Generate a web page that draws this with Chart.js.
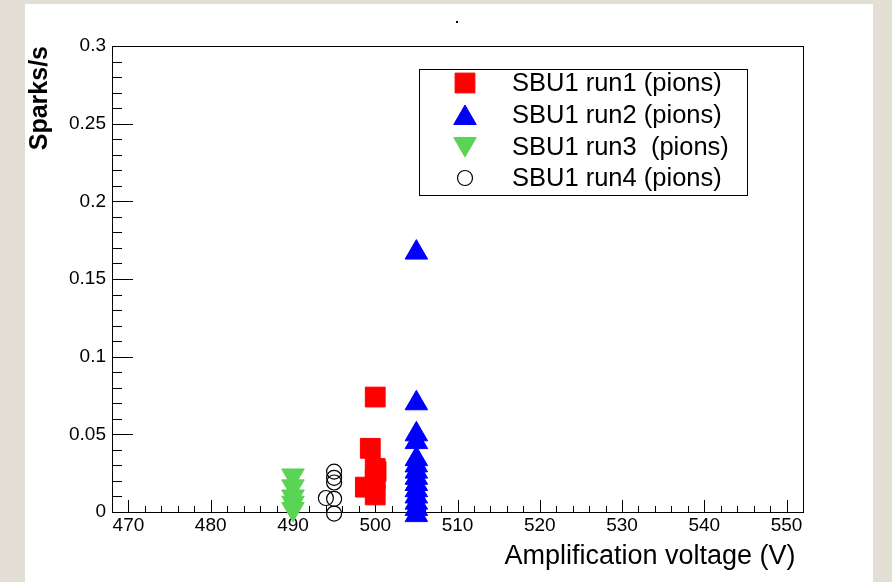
<!DOCTYPE html>
<html>
<head>
<meta charset="utf-8">
<script src="https://cdn.jsdelivr.net/npm/chart.js@4.4.1/dist/chart.umd.min.js"></script>
<style>
    html, body { margin: 0; padding: 0; background: #e4dfd4; }
    #wrap { width: 892px; height: 582px; }
</style>
</head>
<body>
<div id="wrap"><canvas id="sparkChart" width="892" height="582"></canvas></div>
<script>
// values (x = amplification voltage in V, y = sparks per second)
var run1X = [500, 499.4, 500, 500.1, 500, 498.8, 500];
var run1Y = [0.074, 0.041, 0.028, 0.026, 0.021, 0.016, 0.011];

var run2X = [505, 505, 505, 505, 505, 505, 505, 505, 505, 505, 505, 505, 505, 505];
var run2Y = [0.167, 0.070, 0.050, 0.045, 0.034, 0.030, 0.026, 0.022, 0.018, 0.014, 0.010, 0.006, 0.002, -0.002];

var run3X = [490, 490, 490, 490, 490];
var run3Y = [0.0235, 0.0165, 0.010, 0.006, 0.002];

var run4X = [495, 495, 495, 494, 495, 495];
var run4Y = [0.026, 0.022, 0.019, 0.009, 0.0085, -0.001];

var seriesLabels = ['SBU1 run1 (pions)', 'SBU1 run2 (pions)', 'SBU1 run3  (pions)', 'SBU1 run4 (pions)'];

var xTicks = [470, 480, 490, 500, 510, 520, 530, 540, 550];
var yTicks = [0, 0.05, 0.1, 0.15, 0.2, 0.25, 0.3];
var yTickLabels = ['0', '0.05', '0.1', '0.15', '0.2', '0.25', '0.3'];

function toPoints(xs, ys) {
    return xs.map(function (x, i) { return { x: x, y: ys[i] }; });
}

var FONT = '"Liberation Sans", Arial, Helvetica, sans-serif';

var pageBackground = {
    id: 'pageBackground',
    beforeDraw: function (chart) {
        var ctx = chart.ctx;
        ctx.save();
        ctx.fillStyle = '#e4dfd4';
        ctx.fillRect(0, 0, chart.width, chart.height);
        ctx.fillStyle = '#ffffff';
        ctx.fillRect(25, 4, 848, 578);
        ctx.restore();
    }
};

// ROOT style frame with ticks pointing into the plot
var rootFrame = {
    id: 'rootFrame',
    beforeDatasetsDraw: function (chart) {
        var ctx = chart.ctx;
        var a = chart.chartArea;
        var xs = chart.scales.x, ys = chart.scales.y;
        ctx.save();
        ctx.strokeStyle = '#000';
        ctx.lineWidth = 1;
        ctx.strokeRect(a.left + 0.5, a.top + 0.5, a.right - a.left, a.bottom - a.top);

        ctx.beginPath();
        var v, px, len;
        for (v = 470; v <= 552; v += 2) {
            px = Math.round(xs.getPixelForValue(v)) + 0.5;
            len = (v % 10 === 0) ? 12 : 6;
            ctx.moveTo(px, a.bottom);
            ctx.lineTo(px, a.bottom - len);
        }
        for (var k = 0; k <= 30; k++) {
            v = k / 100;
            px = Math.round(ys.getPixelForValue(v)) + 0.5;
            len = (k % 5 === 0) ? 21 : 10;
            ctx.moveTo(a.left, px);
            ctx.lineTo(a.left + len, px);
        }
        ctx.stroke();

        // tiny title mark
        ctx.fillStyle = '#000';
        ctx.fillRect(Math.round((a.left + a.right) / 2) - 2, 21, 2, 2);
        ctx.restore();
    },
    afterDraw: function (chart) {
        var ctx = chart.ctx;
        ctx.save();
        ctx.fillStyle = '#fff';
        ctx.strokeStyle = '#000';
        ctx.lineWidth = 1;
        ctx.fillRect(419, 69, 328, 126);
        ctx.strokeRect(419.5, 69.5, 328, 126);
        var rowY = [83, 115, 147, 178];
        chart.data.datasets.forEach(function (ds, i) {
            ctx.fillStyle = ds.backgroundColor;
            ctx.strokeStyle = ds.borderColor;
            ctx.lineWidth = ds.borderWidth;
            Chart.helpers.drawPoint(ctx, {
                pointStyle: ds.pointStyle,
                radius: ds.pointRadius,
                rotation: ds.rotation || 0,
                borderWidth: ds.borderWidth
            }, 465, rowY[i] + (ds.pointStyle === 'triangle' ? (ds.rotation ? -3 : 3) : 0));
            ctx.fillStyle = '#000';
            ctx.font = '25.5px ' + FONT;
            ctx.textBaseline = 'middle';
            ctx.textAlign = 'left';
            ctx.fillText(ds.label, 512, rowY[i] + 1);
        });
        ctx.restore();
    }
};

var ctx = document.getElementById('sparkChart').getContext('2d');
var chart = new Chart(ctx, {
    type: 'scatter',
    data: {
        datasets: [{
            label: seriesLabels[0],
            data: toPoints(run1X, run1Y),
            pointStyle: 'rect',
            pointRadius: 14,
            backgroundColor: '#ff0000',
            borderColor: '#ff0000',
            borderWidth: 1,
            clip: false
        }, {
            label: seriesLabels[1],
            data: toPoints(run2X, run2Y),
            pointStyle: 'triangle',
            pointRadius: 13,
            backgroundColor: '#0000ff',
            borderColor: '#0000ff',
            borderWidth: 1,
            clip: false
        }, {
            label: seriesLabels[2],
            data: toPoints(run3X, run3Y),
            pointStyle: 'triangle',
            rotation: 180,
            pointRadius: 13,
            backgroundColor: '#59d454',
            borderColor: '#59d454',
            borderWidth: 1,
            clip: false
        }, {
            label: seriesLabels[3],
            data: toPoints(run4X, run4Y),
            pointStyle: 'circle',
            pointRadius: 7.5,
            backgroundColor: 'rgba(0,0,0,0)',
            borderColor: '#000000',
            borderWidth: 1.2,
            clip: false
        }]
    },
    options: {
        responsive: false,
        animation: false,
        devicePixelRatio: 1,
        events: [],
        layout: { padding: { left: 0, top: 46, right: 89, bottom: 0 } },
        plugins: {
            legend: { display: false },
            title: { display: false },
            tooltip: { enabled: false }
        },
        scales: {
            x: {
                type: 'linear',
                min: 468,
                max: 552,
                grid: { display: false, drawTicks: false },
                border: { display: true, color: '#000', width: 1 },
                afterBuildTicks: function (scale) {
                    scale.ticks = xTicks.map(function (v) { return { value: v }; });
                },
                afterFit: function (scale) { scale.height = 70; },
                ticks: {
                    color: '#000',
                    padding: 2,
                    maxRotation: 0,
                    autoSkip: false,
                    font: { family: FONT, size: 19 }
                },
                title: {
                    display: true,
                    text: 'Amplification voltage (V) ',
                    align: 'end',
                    color: '#000',
                    padding: { top: 0, bottom: 9 },
                    font: { family: FONT, size: 27 }
                }
            },
            y: {
                type: 'linear',
                min: 0,
                max: 0.3,
                grid: { display: false, drawTicks: false },
                border: { display: true, color: '#000', width: 1 },
                afterBuildTicks: function (scale) {
                    scale.ticks = yTicks.map(function (v) { return { value: v }; });
                },
                afterFit: function (scale) { scale.width = 112; },
                ticks: {
                    color: '#000',
                    padding: 6,
                    autoSkip: false,
                    font: { family: FONT, size: 19 },
                    callback: function (value, index) { return yTickLabels[index]; }
                },
                title: {
                    display: true,
                    text: 'Sparks/s',
                    align: 'end',
                    color: '#000',
                    padding: { top: 25, bottom: 0 },
                    font: { family: FONT, size: 25, weight: 'bold' }
                }
            }
        }
    },
    plugins: [pageBackground, rootFrame]
});
</script>
</body>
</html>
